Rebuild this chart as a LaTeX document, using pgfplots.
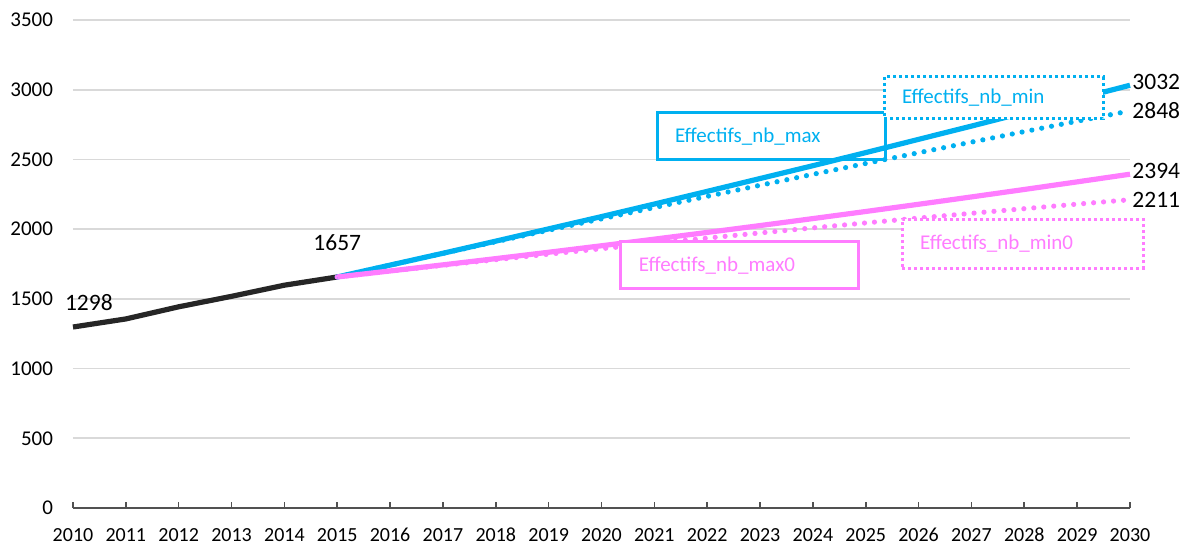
\documentclass[border=0pt]{standalone}
\usepackage{pgfplots}
\pgfplotsset{compat=1.18}
\usepackage{fontspec}
\setmainfont{Carlito}
\definecolor{cblue}{HTML}{00B0F0}
\definecolor{cpink}{HTML}{FF7CFF}
\definecolor{cblack}{HTML}{262626}
\definecolor{cgrid}{HTML}{D9D9D9}
\begin{document}
\begin{tikzpicture}
\begin{axis}[
  name=ax,
  scale only axis,
  width=528.5pt, height=244pt,
  xmin=2010, xmax=2030, ymin=0, ymax=3500,
  xtick={2010,2011,...,2030},
  ytick={0,500,...,3500},
  xticklabel style={/pgf/number format/1000 sep={}, font=\fontsize{10}{12}\selectfont, text height=7pt, text depth=0pt, anchor=north, yshift=-6.3pt},
  yticklabel style={/pgf/number format/1000 sep={}, font=\fontsize{10.5}{12}\selectfont, xshift=-6.5pt},
  /pgf/number format/assume math mode=true,
  axis x line*=bottom,
  axis y line*=left,
  y axis line style={draw=none},
  ytick style={draw=none},
  ymajorgrids,
  grid style={cgrid, line width=0.8pt},
  x axis line style={cblack!80, line width=0.9pt, -},
  xtick style={cblack!80, line width=0.8pt},
  tick align=inside,
  major tick length=3pt,
  clip=false,
]
\addplot[cblack, line width=2.6pt, line join=round] coordinates {
(2010,1298) (2011,1356) (2012,1443) (2013,1518) (2014,1598) (2015,1657)};
\addplot[cblue, line width=2.6pt, dash pattern=on 0pt off 5pt, line cap=round] coordinates {
(2015,1657) (2016,1742) (2017,1826.2) (2018,1909.6) (2019,1992.2) (2020,2074)
(2021,2155) (2022,2235.2) (2023,2314.6) (2024,2393.2) (2025,2471) (2026,2548)
(2027,2624.2) (2028,2699.6) (2029,2774.2) (2030,2848)};
\addplot[cpink, line width=2.6pt, dash pattern=on 0pt off 5pt, line cap=round] coordinates {
(2015,1657) (2016,1699) (2017,1740.3) (2018,1780.8) (2019,1820.7) (2020,1859.8)
(2021,1898.2) (2022,1935.9) (2023,1972.8) (2024,2009.1) (2025,2044.6) (2026,2079.4)
(2027,2113.5) (2028,2146.8) (2029,2179.5) (2030,2211)};
\addplot[cblue, line width=2.6pt, line join=round] coordinates {
(2015,1657) (2016,1742) (2017,1827) (2018,1914) (2019,2002) (2020,2090)
(2021,2180) (2022,2271) (2023,2363) (2024,2455) (2025,2549) (2026,2644)
(2027,2739) (2028,2836) (2029,2934) (2030,3032)};
\addplot[cpink, line width=2.6pt, line join=round] coordinates {
(2015,1657) (2016,1700) (2017,1743.9) (2018,1788.6) (2019,1834.3) (2020,1880.8)
(2021,1928.2) (2022,1976.5) (2023,2025.6) (2024,2075.7) (2025,2126.6) (2026,2178.4)
(2027,2231.1) (2028,2284.6) (2029,2339.1) (2030,2394)};

% data labels
\node[anchor=south west, yshift=4.5pt, xshift=-7.5pt, font=\fontsize{11.75}{13}\selectfont, text=black] at (axis cs:2010,1298) {1298};
\node[anchor=south, yshift=9.5pt, font=\fontsize{11.75}{13}\selectfont, text=black] at (axis cs:2015,1657) {1657};
\node[anchor=west, xshift=-2.3pt, yshift=1.5pt, font=\fontsize{11.75}{13}\selectfont, text=black] at (axis cs:2030,3032) {3032};
\node[anchor=west, xshift=-2.3pt, font=\fontsize{11.75}{13}\selectfont, text=black] at (axis cs:2030,2848) {2848};
\node[anchor=west, xshift=-2.3pt, yshift=1.5pt, font=\fontsize{11.75}{13}\selectfont, text=black] at (axis cs:2030,2394) {2394};
\node[anchor=west, xshift=-2.3pt, font=\fontsize{11.75}{13}\selectfont, text=black] at (axis cs:2030,2211) {2211};

% series name boxes
\node[draw=cblue, line width=1.5pt, text=cblue, minimum width=114pt, minimum height=23.5pt,
  inner xsep=9pt, text width=96pt, align=left, font=\fontsize{10.5}{12}\selectfont]
  at (axis cs:2023.21,2665) {Effectifs\_nb\_max};
\node[draw=cblue, fill=white, line width=1.5pt, dash pattern=on 1.5pt off 1.5pt, text=cblue, minimum width=109.5pt, minimum height=21pt,
  inner xsep=9pt, text width=91.5pt, align=left, font=\fontsize{10.5}{12}\selectfont]
  at (axis cs:2027.42,2941) {Effectifs\_nb\_min};
\node[draw=cpink, fill=white, line width=1.5pt, text=cpink, minimum width=119pt, minimum height=23.5pt,
  inner xsep=9pt, text width=101pt, align=left, font=\fontsize{10.5}{12}\selectfont]
  at (axis cs:2022.62,1740) {Effectifs\_nb\_max0};
\node[draw=cpink, fill=white, line width=1.5pt, dash pattern=on 1.5pt off 1.5pt, text=cpink, minimum width=120.5pt, minimum height=24.5pt,
  inner xsep=9pt, text width=102.5pt, align=left, font=\fontsize{10.5}{12}\selectfont]
  at (axis cs:2027.97,1897) {Effectifs\_nb\_min0};
\end{axis}
\pgfresetboundingbox
\path ([shift={(-36.5pt,-18.5pt)}]ax.south west) rectangle ([shift={(29.5pt,10pt)}]ax.north east);
\end{tikzpicture}
\end{document}
